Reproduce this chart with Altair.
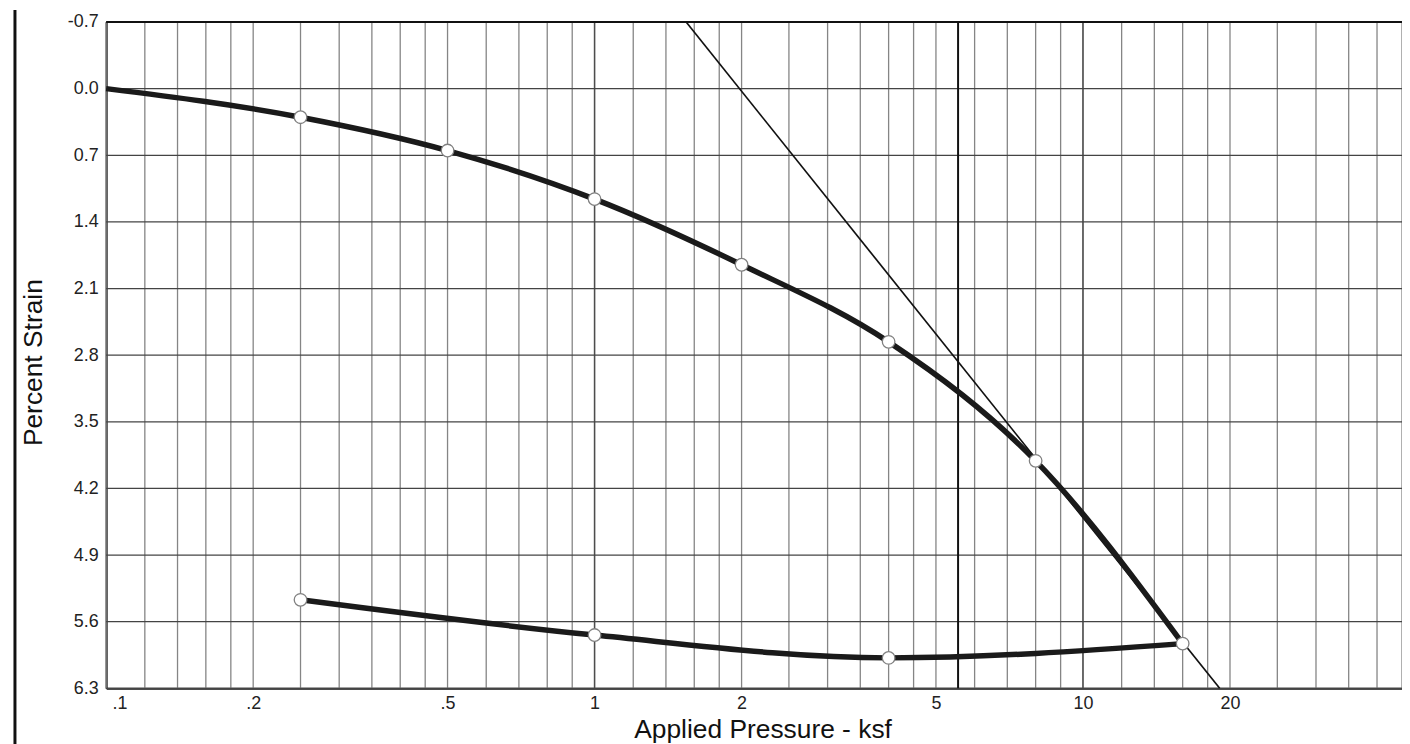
import altair as alt
import pandas as pd

FONT = "Liberation Sans"

# ---- data ----
load_p = [0.1, 0.25, 0.5, 1, 2, 4, 8, 16]
load_s = [0.0, 0.30, 0.65, 1.16, 1.85, 2.66, 3.91, 5.83]

unload_p = [0.25, 1, 4, 16]
unload_s = [5.37, 5.74, 5.98, 5.83]

tangent_p = [1.54, 19.05]
tangent_s = [-0.7, 6.3]

pc_p = [5.55]          # heavy vertical line

grid_x = [0.1, 0.12, 0.14, 0.16, 0.18, 0.2, 0.25, 0.3, 0.35, 0.4, 0.45,
          0.5, 0.6, 0.7, 0.8, 0.9, 1, 1.2, 1.4, 1.6, 1.8, 2, 2.5, 3, 3.5,
          4, 4.5, 5, 6, 7, 8, 9, 10, 12, 14, 16, 18, 20, 25, 30, 35, 40, 45]
decade_x = [1, 10]
label_vals = [0.1, 0.2, 0.5, 1, 2, 5, 10, 20]
label_text = [".1", ".2", ".5", "1", "2", "5", "10", "20"]

y_ticks = [-0.7, 0.0, 0.7, 1.4, 2.1, 2.8, 3.5, 4.2, 4.9, 5.6, 6.3]

# ---- tables ----
load_df = pd.DataFrame({"p": load_p, "s": load_s})
unload_df = pd.DataFrame({"p": unload_p, "s": unload_s})
marker_df = pd.DataFrame({"p": load_p[1:] + unload_p[:-1],
                          "s": load_s[1:] + unload_s[:-1]})
tangent_df = pd.DataFrame({"p": tangent_p, "s": tangent_s})
pc_df = pd.DataFrame({"p": pc_p})
gx_df = pd.DataFrame({"p": grid_x})
dx_df = pd.DataFrame({"p": decade_x})
gy_df = pd.DataFrame({"s": y_ticks})
top_df = pd.DataFrame({"s": [y_ticks[0]]})

W, H = 1303, 670

xs = alt.Scale(type="log", domain=[0.1, 45], nice=False)
ys = alt.Scale(domain=[-0.7, 6.3], reverse=True, nice=False, zero=False)

x_label_expr = " : ".join(
    f"datum.value == {v} ? '{t}'" for v, t in zip(label_vals, label_text)
) + " : ''"

x_axis = alt.Axis(
    values=label_vals, grid=False, ticks=False, domain=True,
    domainColor="#111111", domainWidth=2, labelExpr=x_label_expr,
    labelFlush=True, labelFlushOffset=-6, labelOverlap=False,
    labelFontSize=18, labelColor="#222222", labelPadding=6, labelFont=FONT,
    title="Applied Pressure - ksf", titleFontSize=26.5, titleX=660,
    titleFontWeight="normal", titleColor="#111111", titlePadding=4,
    titleFont=FONT,
)
y_axis = alt.Axis(
    values=y_ticks, grid=False, ticks=False, domain=True,
    domainColor="#111111", domainWidth=2,
    labelExpr="(datum.value < 0 ? '-' : '') + format(abs(datum.value), '.1f')",
    labelOverlap=False, labelFontSize=18, labelColor="#222222",
    labelPadding=8, labelFont=FONT,
    title="Percent Strain", titleFontSize=26.5, titleFontWeight="normal",
    titleColor="#111111", titlePadding=20, titleY=342, titleFont=FONT,
)


def X():
    return alt.X("p:Q", scale=xs, axis=x_axis)


def Y():
    return alt.Y("s:Q", scale=ys, axis=y_axis)


grid_v = alt.Chart(gx_df).mark_rule(color="#858585", strokeWidth=1.3).encode(x=X())
grid_dec = alt.Chart(dx_df).mark_rule(color="#4d4d4d", strokeWidth=1.4).encode(x=X())
grid_h = alt.Chart(gy_df).mark_rule(color="#444444", strokeWidth=1.3).encode(y=Y())

load_line = alt.Chart(load_df).mark_line(
    interpolate="monotone", strokeWidth=5.5, color="#1a1a1a"
).encode(x=X(), y=Y())

unload = alt.Chart(unload_df).mark_line(
    interpolate="monotone", strokeWidth=5.5, color="#1a1a1a"
).encode(x=X(), y=Y())

tangent = alt.Chart(tangent_df).mark_line(
    strokeWidth=1.7, color="#111111"
).encode(x=X(), y=Y())

pc_rule = alt.Chart(pc_df).mark_rule(color="#111111", strokeWidth=2).encode(x=X())

top_rule = alt.Chart(top_df).mark_rule(color="#111111", strokeWidth=2).encode(y=Y())

markers = alt.Chart(marker_df).mark_point(
    shape="circle", filled=True, fill="white", stroke="#808080",
    strokeWidth=1.3, size=160, opacity=1
).encode(x=X(), y=Y())

page_border = alt.Chart(top_df).mark_rule(color="#111111", strokeWidth=3).encode(
    x=alt.value(-91.7), y=alt.value(-12), y2=alt.value(800),
)

chart = alt.layer(
    grid_v, grid_dec, grid_h, top_rule, pc_rule, tangent,
    load_line, unload, markers, page_border
).properties(
    width=W, height=H,
    autosize=alt.AutoSizeParams(type="none"),
    padding={"left": 98.7, "top": 12, "right": 0, "bottom": 80},
).configure(font=FONT).configure_view(stroke=None)

chart.save("out.html", embed_options={"renderer": "svg", "actions": False})
